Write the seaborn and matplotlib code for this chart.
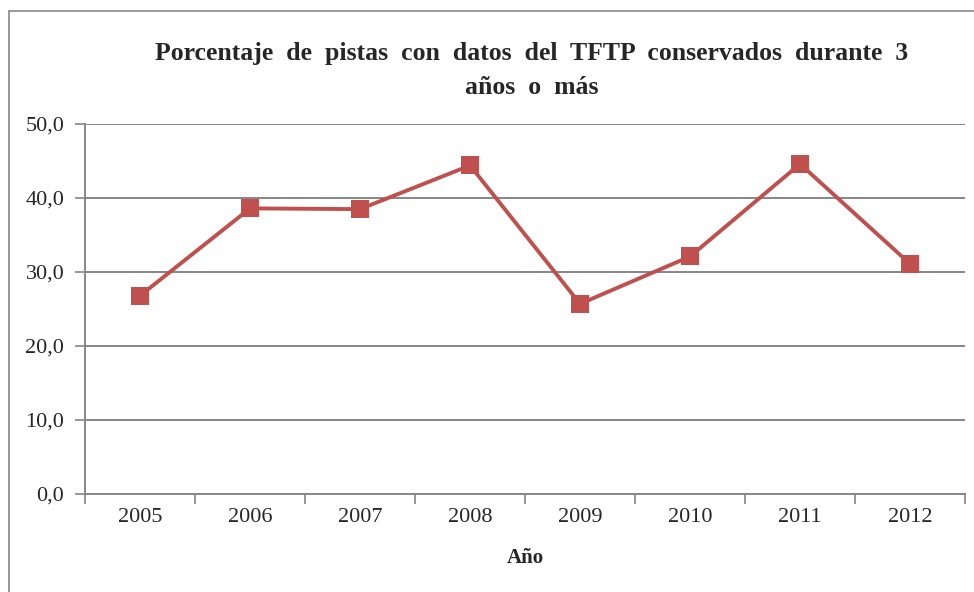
import matplotlib
matplotlib.use("Agg")
import matplotlib.pyplot as plt
from matplotlib.lines import Line2D
import pandas as pd
import seaborn as sns

years = ["2005", "2006", "2007", "2008", "2009", "2010", "2011", "2012"]
porcentaje = [26.8, 38.6, 38.5, 44.4, 25.7, 32.1, 44.6, 31.1]
y_ticks = [0, 10, 20, 30, 40, 50]

LINE_COLOR = "#C0504D"
GRID_COLOR = "#868686"

sns.set_theme(style="white")
plt.rcParams["font.family"] = ["Liberation Serif", "DejaVu Serif"]

df = pd.DataFrame({"year": years, "value": porcentaje})
df["pos"] = range(len(df))

fig = plt.figure(figsize=(9.74, 5.92), dpi=100)
ax = fig.add_axes([0.0873, 0.1655, 0.9035, 0.625])

sns.lineplot(data=df, x="pos", y="value", ax=ax, color=LINE_COLOR,
             linewidth=2.8, marker="s", markersize=12.5, markeredgewidth=0,
             zorder=3)

ax.set_xlim(-0.5, len(years) - 0.5)
ax.set_ylim(0, 50)
ax.set_yticks(y_ticks)
ax.set_yticklabels([f"{v:.1f}".replace(".", ",") for v in y_ticks], fontsize=16)
ax.yaxis.grid(True, color=GRID_COLOR, linewidth=1.4)
ax.xaxis.grid(False)

# category labels in bin centres, tick marks on bin edges
ax.set_xticks([i - 0.5 for i in range(len(years) + 1)])
ax.set_xticklabels([])
ax.set_xticks(df["pos"], minor=True)
ax.set_xticklabels(years, minor=True, fontsize=16)
ax.tick_params(axis="x", which="major", direction="out", length=7,
               width=1.2, color=GRID_COLOR, bottom=True)
ax.tick_params(axis="x", which="minor", length=0, pad=10)
ax.tick_params(axis="y", direction="out", length=7, width=1.2,
               color=GRID_COLOR, left=True, pad=8)

for side in ["top", "right"]:
    ax.spines[side].set_visible(False)
for side in ["left", "bottom"]:
    ax.spines[side].set_color(GRID_COLOR)
    ax.spines[side].set_linewidth(1.4)

ax.set_xlabel("")
ax.set_ylabel("")

fig.text(0.546, 0.909, "Porcentaje  de  pistas  con  datos  del  TFTP  conservados  durante  3",
         ha="center", va="center", fontsize=18.5, fontweight="bold")
fig.text(0.546, 0.853, "años  o  más", ha="center", va="center",
         fontsize=18.5, fontweight="bold")
fig.text(0.539, 0.058, "Año", ha="center", va="center", fontsize=15,
         fontweight="bold")

# outer chart border (left and top visible)
fig.add_artist(Line2D([0.0092, 0.0092], [0.0, 0.9814], transform=fig.transFigure,
                      color=GRID_COLOR, linewidth=1.2))
fig.add_artist(Line2D([0.0092, 1.0], [0.9814, 0.9814], transform=fig.transFigure,
                      color=GRID_COLOR, linewidth=1.2))

fig.savefig("out.png", dpi=100)
plt.close(fig)
